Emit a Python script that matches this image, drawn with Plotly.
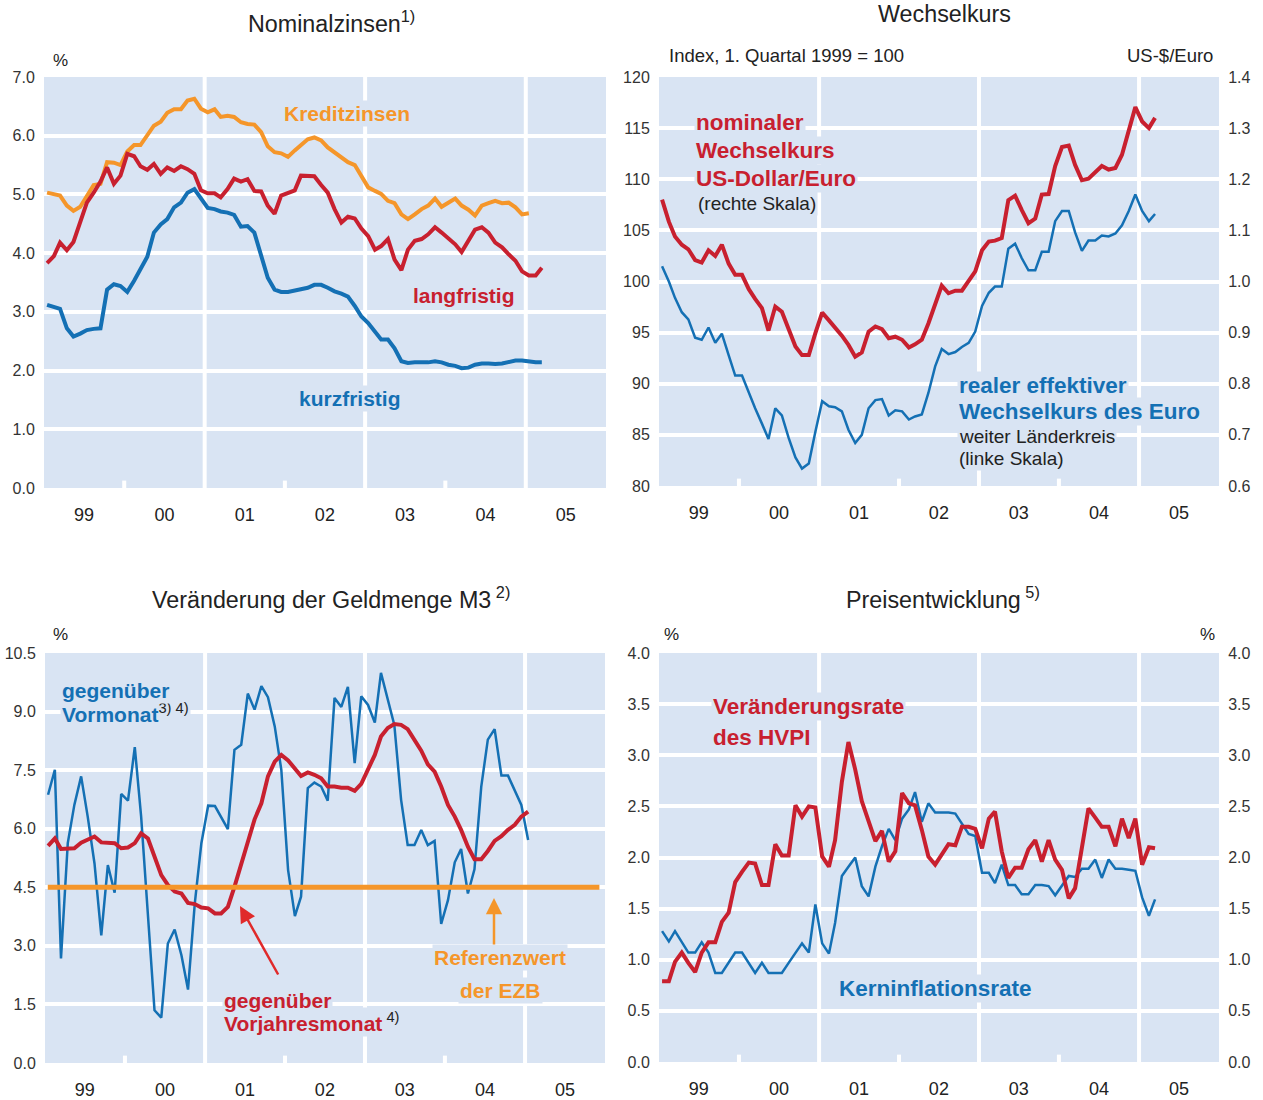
import pandas as pd
import plotly.graph_objects as go

W, H = 1263, 1100

# ---------------- data (monthly, starting Jan 1999) ----------------
kurzfristig = [3.12, 3.08, 3.05, 2.72, 2.58, 2.63, 2.69, 2.71, 2.72, 3.38, 3.47, 3.44,
               3.34, 3.53, 3.72, 3.94, 4.35, 4.49, 4.58, 4.78, 4.86, 5.03, 5.09, 4.92,
               4.77, 4.75, 4.71, 4.69, 4.65, 4.45, 4.46, 4.35, 3.95, 3.58, 3.38, 3.34,
               3.34, 3.36, 3.39, 3.41, 3.46, 3.46, 3.41, 3.35, 3.31, 3.26, 3.10, 2.92,
               2.81, 2.67, 2.53, 2.53, 2.38, 2.16, 2.13, 2.14, 2.14, 2.14, 2.16, 2.14,
               2.10, 2.08, 2.04, 2.05, 2.10, 2.12, 2.12, 2.11, 2.12, 2.14, 2.17, 2.17,
               2.15, 2.14, 2.14]
langfristig = [3.83, 3.95, 4.18, 4.05, 4.19, 4.52, 4.86, 5.03, 5.22, 5.46, 5.18, 5.32,
               5.69, 5.65, 5.48, 5.42, 5.52, 5.35, 5.46, 5.40, 5.48, 5.43, 5.35, 5.07,
               5.02, 5.02, 4.95, 5.09, 5.27, 5.22, 5.26, 5.06, 5.05, 4.81, 4.67, 4.98,
               5.03, 5.07, 5.32, 5.31, 5.31, 5.16, 5.03, 4.75, 4.52, 4.62, 4.59, 4.42,
               4.29, 4.06, 4.12, 4.24, 3.89, 3.71, 4.06, 4.21, 4.24, 4.32, 4.44, 4.35,
               4.24, 4.15, 4.02, 4.21, 4.40, 4.44, 4.35, 4.18, 4.10, 3.98, 3.87, 3.69,
               3.62, 3.62, 3.75]
kreditzinsen = [5.03, 5.01, 4.98, 4.81, 4.72, 4.79, 4.98, 5.16, 5.18, 5.55, 5.54, 5.50,
                5.73, 5.84, 5.84, 6.01, 6.17, 6.24, 6.39, 6.45, 6.45, 6.60, 6.63, 6.46,
                6.40, 6.45, 6.32, 6.34, 6.32, 6.23, 6.20, 6.19, 6.06, 5.82, 5.72, 5.70,
                5.64, 5.75, 5.84, 5.94, 5.97, 5.92, 5.80, 5.72, 5.62, 5.55, 5.50, 5.32,
                5.12, 5.06, 5.01, 4.89, 4.85, 4.66, 4.58, 4.66, 4.75, 4.81, 4.93, 4.79,
                4.87, 4.93, 4.81, 4.74, 4.64, 4.81, 4.85, 4.89, 4.85, 4.86, 4.78, 4.66,
                4.68]

nominal_usd_eur = [1.160, 1.117, 1.088, 1.072, 1.063, 1.042, 1.037, 1.061, 1.050, 1.072, 1.035, 1.013,
                   1.013, 0.985, 0.966, 0.948, 0.904, 0.951, 0.941, 0.905, 0.873, 0.856, 0.856, 0.899,
                   0.939, 0.924, 0.910, 0.894, 0.876, 0.853, 0.861, 0.902, 0.912, 0.907, 0.889, 0.892,
                   0.886, 0.871, 0.877, 0.886, 0.918, 0.954, 0.992, 0.977, 0.982, 0.982, 1.003, 1.020,
                   1.061, 1.078, 1.080, 1.085, 1.159, 1.168, 1.140, 1.114, 1.123, 1.170, 1.171, 1.226,
                   1.263, 1.266, 1.228, 1.198, 1.201, 1.215, 1.226, 1.219, 1.222, 1.248, 1.294, 1.341,
                   1.313, 1.300, 1.320]
real_effektiv = [101.5, 100.0, 98.4, 97.0, 96.3, 94.5, 94.3, 95.5, 94.0, 94.9, 92.8, 90.8,
                 90.8, 89.1, 87.6, 86.1, 84.6, 87.6, 86.9, 84.7, 82.8, 81.7, 82.2, 85.3,
                 88.3, 87.8, 87.7, 87.3, 85.5, 84.2, 85.0, 87.6, 88.4, 88.5, 86.9, 87.4,
                 87.3, 86.5, 86.8, 87.0, 89.1, 91.7, 93.4, 92.9, 93.1, 93.6, 94.0, 95.1,
                 97.6, 98.9, 99.5, 99.5, 103.2, 103.7, 102.3, 101.1, 101.1, 102.9, 102.9, 105.9,
                 106.9, 106.9, 104.8, 103.0, 104.0, 104.0, 104.5, 104.4, 104.7, 105.5, 106.9, 108.5,
                 106.9, 105.9, 106.6]

m3_vormonat = [6.87, 7.51, 2.68, 5.63, 6.61, 7.34, 6.31, 5.11, 3.27, 5.07, 4.36, 6.89,
               6.72, 8.09, 6.31, 3.75, 1.35, 1.16, 3.06, 3.42, 2.76, 1.88, 4.09, 5.63,
               6.59, 6.58, 6.31, 5.99, 8.02, 8.15, 9.46, 9.05, 9.65, 9.37, 8.62, 7.51,
               4.94, 3.76, 4.26, 7.04, 7.18, 7.08, 6.72, 9.35, 9.12, 9.63, 7.68, 9.39,
               9.17, 8.72, 9.99, 9.35, 8.66, 6.74, 5.58, 5.58, 5.97, 5.58, 5.69, 3.56,
               4.17, 5.14, 5.48, 4.34, 4.96, 7.08, 8.28, 8.55, 7.36, 7.36, 6.99, 6.61,
               5.71]
m3_vorjahr = [5.56, 5.75, 5.48, 5.48, 5.50, 5.64, 5.71, 5.80, 5.65, 5.65, 5.63, 5.50,
              5.52, 5.63, 5.88, 5.75, 5.28, 4.81, 4.56, 4.39, 4.34, 4.10, 4.07, 3.98,
              3.96, 3.83, 3.83, 4.00, 4.51, 5.11, 5.69, 6.24, 6.65, 7.34, 7.72, 7.89,
              7.75, 7.52, 7.35, 7.44, 7.38, 7.29, 7.08, 7.08, 7.05, 7.05, 6.97, 7.15,
              7.51, 7.89, 8.36, 8.58, 8.68, 8.66, 8.55, 8.28, 8.00, 7.65, 7.46, 7.08,
              6.61, 6.31, 5.97, 5.54, 5.22, 5.22, 5.43, 5.69, 5.81, 5.97, 6.10, 6.31,
              6.44]
REFERENZWERT = 4.5

hvpi = [0.79, 0.79, 0.98, 1.07, 0.97, 0.88, 1.07, 1.17, 1.17, 1.37, 1.46, 1.76,
        1.86, 1.95, 1.94, 1.73, 1.73, 2.13, 2.02, 2.02, 2.51, 2.40, 2.50, 2.49,
        2.01, 1.91, 2.17, 2.74, 3.13, 2.86, 2.55, 2.35, 2.16, 2.26, 1.96, 2.06,
        2.63, 2.53, 2.51, 2.27, 2.01, 1.93, 2.03, 2.13, 2.12, 2.30, 2.30, 2.28,
        2.09, 2.38, 2.45, 2.06, 1.80, 1.90, 1.90, 2.08, 2.17, 1.96, 2.17, 1.98,
        1.88, 1.60, 1.70, 2.08, 2.48, 2.39, 2.30, 2.30, 2.11, 2.38, 2.19, 2.38,
        1.93, 2.10, 2.09]
kerninflation = [1.28, 1.18, 1.28, 1.18, 1.07, 1.07, 1.17, 1.07, 0.87, 0.87, 0.97, 1.07,
                 1.07, 0.97, 0.87, 0.97, 0.87, 0.87, 0.87, 0.97, 1.07, 1.16, 1.07, 1.54,
                 1.16, 1.06, 1.36, 1.82, 1.91, 2.00, 1.72, 1.62, 1.91, 2.11, 2.28, 2.17,
                 2.38, 2.47, 2.64, 2.35, 2.53, 2.44, 2.44, 2.44, 2.43, 2.33, 2.23, 2.21,
                 1.85, 1.85, 1.75, 1.93, 1.73, 1.73, 1.64, 1.64, 1.73, 1.73, 1.72, 1.63,
                 1.73, 1.82, 1.81, 1.89, 1.89, 1.98, 1.80, 1.98, 1.89, 1.89, 1.88, 1.87,
                 1.61, 1.43, 1.59]

year_labels = ["99", "00", "01", "02", "03", "04", "05"]
years = list(range(1999, 2006))

# ---------------- styling ----------------
FONT = "Liberation Sans, Arial, sans-serif"
BG = "#d9e4f3"
RED = "#c8202f"
BLUE = "#1470b4"
ORANGE = "#f5962a"
TXT = "#222222"

months = pd.date_range("1999-01-01", periods=75, freq="MS") + pd.Timedelta(days=14)


def mx(series):
    return months[:len(series)]


def PX(x):
    return x / W


def PY(y):
    return 1 - y / H


fig = go.Figure()

# panel 1: Nominalzinsen
fig.add_trace(go.Scatter(x=mx(kreditzinsen), y=kreditzinsen, mode="lines",
                         line=dict(color=ORANGE, width=4), xaxis="x", yaxis="y"))
fig.add_trace(go.Scatter(x=mx(langfristig), y=langfristig, mode="lines",
                         line=dict(color=RED, width=4), xaxis="x", yaxis="y"))
fig.add_trace(go.Scatter(x=mx(kurzfristig), y=kurzfristig, mode="lines",
                         line=dict(color=BLUE, width=4), xaxis="x", yaxis="y"))

# panel 2: Wechselkurs
fig.add_trace(go.Scatter(x=mx(real_effektiv), y=real_effektiv, mode="lines",
                         line=dict(color=BLUE, width=2.5), xaxis="x2", yaxis="y2"))
fig.add_trace(go.Scatter(x=mx(nominal_usd_eur), y=nominal_usd_eur, mode="lines",
                         line=dict(color=RED, width=4), xaxis="x2", yaxis="y3"))

# panel 3: M3
fig.add_trace(go.Scatter(x=mx(m3_vormonat), y=m3_vormonat, mode="lines",
                         line=dict(color=BLUE, width=2.5), xaxis="x4", yaxis="y4"))
fig.add_trace(go.Scatter(x=mx(m3_vorjahr), y=m3_vorjahr, mode="lines",
                         line=dict(color=RED, width=4), xaxis="x4", yaxis="y4"))

# panel 4: Preise
fig.add_trace(go.Scatter(x=mx(kerninflation), y=kerninflation, mode="lines",
                         line=dict(color=BLUE, width=2.5), xaxis="x5", yaxis="y5"))
fig.add_trace(go.Scatter(x=mx(hvpi), y=hvpi, mode="lines",
                         line=dict(color=RED, width=4), xaxis="x5", yaxis="y6"))

tickvals = [f"{y}-07-02" for y in years]


def xaxis(domain, anchor):
    return dict(domain=domain, anchor=anchor, type="date", automargin=False,
                range=["1999-01-01", "2006-01-01"], showgrid=False, zeroline=False,
                tickvals=tickvals, ticktext=year_labels, ticks="outside", ticklen=10,
                tickcolor="rgba(0,0,0,0)", showline=False,
                tickfont=dict(family=FONT, size=18, color=TXT))


def yaxis(domain, anchor, rng, dtick, fmt, **kw):
    d = dict(domain=domain, anchor=anchor, range=rng, dtick=dtick, tick0=0,
             automargin=False, tickformat=fmt, showgrid=True, gridcolor="white",
             gridwidth=4, zeroline=False, showline=False, ticks="outside", ticklen=5,
             tickcolor="rgba(0,0,0,0)",
             tickfont=dict(family=FONT, size=16, color="#333333"))
    d.update(kw)
    return d


xTL = [PX(44), PX(606)]
xTR = [PX(659), PX(1219)]
xBL = [PX(45), PX(605)]
xBR = [PX(659), PX(1219)]
yTL = [PY(488), PY(77)]
yTR = [PY(486), PY(77)]
yBL = [PY(1063), PY(653)]
yBR = [PY(1062), PY(653)]

fig.update_layout(
    template="none",
    width=W, height=H, autosize=False,
    margin=dict(l=0, r=0, t=0, b=0, pad=0, autoexpand=False),
    paper_bgcolor="white", plot_bgcolor=BG, showlegend=False,
    font=dict(family=FONT, color=TXT),
    xaxis=xaxis(xTL, "y"),
    yaxis=yaxis(yTL, "x", [0, 7], 1, ".1f"),
    xaxis2=xaxis(xTR, "y2"),
    yaxis2=yaxis(yTR, "x2", [80, 120], 5, "d"),
    yaxis3=yaxis(yTR, "x2", [0.6, 1.4], 0.1, ".1f", overlaying="y2", side="right",
                 showgrid=False),
    xaxis4=xaxis(xBL, "y4"),
    yaxis4=yaxis(yBL, "x4", [0, 10.5], 1.5, ".1f"),
    xaxis5=xaxis(xBR, "y5"),
    yaxis5=yaxis(yBR, "x5", [0, 4], 0.5, ".1f"),
    yaxis6=yaxis(yBR, "x5", [0, 4], 0.5, ".1f", overlaying="y5", side="right",
                 showgrid=False),
)

# vertical separators (full lines every other year, short notches otherwise)
shapes = []
for xa, ya in [("x", "y"), ("x2", "y2"), ("x4", "y4"), ("x5", "y5")]:
    for yr in (2001, 2003, 2005):
        shapes.append(dict(type="line", xref=xa, yref=f"{ya} domain",
                           x0=f"{yr}-01-01", x1=f"{yr}-01-01", y0=0, y1=1,
                           line=dict(color="white", width=4), layer="below"))
    for yr in (2000, 2002, 2004):
        shapes.append(dict(type="line", xref=xa, yref=f"{ya} domain",
                           x0=f"{yr}-01-01", x1=f"{yr}-01-01", y0=0, y1=0.018,
                           line=dict(color="white", width=4), layer="below"))
# EZB reference line
shapes.append(dict(type="line", xref="x4 domain", yref="y4", x0=0.005, x1=0.99,
                   y0=REFERENZWERT, y1=REFERENZWERT,
                   line=dict(color=ORANGE, width=5), layer="above"))
fig.update_layout(shapes=shapes)

ann = []


def text(x, y, t, size=18, color=TXT, xanchor="left", bold=False, bg=None):
    if bold:
        t = f"<b>{t}</b>"
    a = dict(x=PX(x), y=PY(y), xref="paper", yref="paper", text=t, showarrow=False,
             xanchor=xanchor, yanchor="middle",
             font=dict(family=FONT, size=size, color=color))
    if bg:
        a.update(bgcolor=bg, borderpad=1)
    ann.append(a)


BS = 21     # bold label size (left panels)
BSR = 22.5  # bold label size (right panels)
RS = 19     # regular label size
TS = 23.3   # title size

# titles
text(331, 22, "Nominalzinsen<sup>1)</sup>", TS, xanchor="center")
text(944, 14, "Wechselkurs", TS, xanchor="center")
text(331, 598, "Veränderung der Geldmenge M3<sup> 2)</sup>", TS, xanchor="center")
text(943, 598, "Preisentwicklung<sup> 5)</sup>", TS, xanchor="center")

# unit labels
text(60, 60, "%", 17, xanchor="center")
text(667, 56, "Index, 1. Quartal 1999 = 100", 18.5)
text(1215, 56, "US-$/Euro", 18.5, xanchor="right")
text(60, 634, "%", 17, xanchor="center")
text(671, 634, "%", 17, xanchor="center")
text(1207, 634, "%", 17, xanchor="center")

# panel 1 labels
text(347, 113, "Kreditzinsen", BS, ORANGE, "center", True, BG)
text(464, 295, "langfristig", BS, RED, "center", True, BG)
text(350, 398, "kurzfristig", BS, BLUE, "center", True, BG)

# panel 2 labels (lower lines first so upper boxes do not clip text)
text(696, 203, "(rechte Skala)", RS, TXT, bg=BG)
text(694, 178, "US-Dollar/Euro", BSR, RED, bold=True, bg=BG)
text(694, 150, "Wechselkurs", BSR, RED, bold=True, bg=BG)
text(694, 122, "nominaler", BSR, RED, bold=True, bg=BG)
text(957, 458, "(linke Skala)", RS, TXT, bg=BG)
text(957, 436, "weiter Länderkreis", RS, TXT, bg=BG)
text(957, 412, "Wechselkurs des Euro", BSR, BLUE, bold=True, bg=BG)
text(957, 385, "realer effektiver", BSR, BLUE, bold=True, bg=BG)

# panel 3 labels
text(60, 713, f"<b>Vormonat</b><sup><span style='color:{TXT}'>3) 4)</span></sup>", BS, BLUE, bg=BG)
text(60, 690, "gegenüber", BS, BLUE, bold=True, bg=BG)
text(222, 1022, f"<b>Vorjahresmonat</b><sup><span style='color:{TXT}'> 4)</span></sup>", BS, RED, bg=BG)
text(222, 1000, "gegenüber", BS, RED, bold=True, bg=BG)
text(500, 990, "der EZB", BS, ORANGE, "center", True, BG)
text(500, 958, "Referenzwert", BS, ORANGE, "center", True, BG)

# panel 4 labels
text(711, 737, "des HVPI", BSR, RED, bold=True, bg=BG)
text(711, 706, "Veränderungsrate", BSR, RED, bold=True, bg=BG)
text(837, 988, "Kerninflationsrate", BSR, BLUE, bold=True, bg=BG)

# arrows
for (hx, hy, tx, ty, col) in [(240, 906, 279, 976, "#e02a2a"), (494, 898, 494, 946, ORANGE)]:
    ann.append(dict(x=PX(hx), y=PY(hy), xref="paper", yref="paper", text="",
                    showarrow=True, ax=tx - hx, ay=ty - hy, axref="pixel", ayref="pixel",
                    arrowhead=2, arrowsize=1.3, arrowwidth=2.5, arrowcolor=col))

fig.update_layout(annotations=ann)
fig.write_html("out.html", config={"displayModeBar": False},
               post_script="document.body.style.margin='0px';"
                           "document.body.style.overflow='hidden';")
